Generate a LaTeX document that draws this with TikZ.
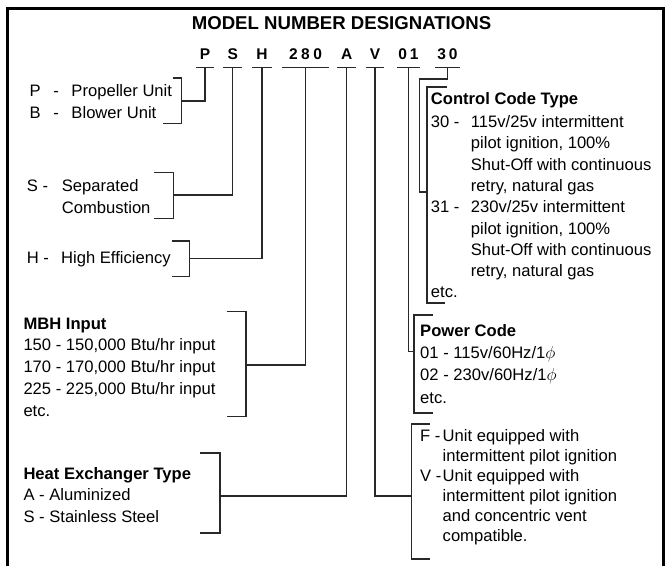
\documentclass[tikz,border=0pt]{standalone}
\usepackage{fontspec}
\setmainfont{Liberation Sans}
\usepackage{tikz}
\definecolor{MNLine}{RGB}{40,40,40}
\newcommand\mnfont[1]{\fontsize{16.6}{#1}\selectfont}
\tikzset{
  mnframe/.style ={draw=black, line width=2.7pt},
  mnrule/.style  ={draw=MNLine, line width=1.3pt},
  mncode/.style  ={font=\fontsize{15.5}{18}\selectfont\bfseries, anchor=base,
                   inner sep=0pt, text depth=8pt},
  mnblock/.style ={anchor=base west, inner sep=0pt},
}

\begin{document}
\begin{tikzpicture}[
  x=1pt,y=-1pt,
  line cap=butt,
  line join=miter
]
\useasboundingbox (0,0) rectangle (668,565);

% --- Frame ---------------------------------------------------------------
\draw[mnframe] (7.3,566) |- (663.5,8.7) -- (663.5,566);

% --- Title ---------------------------------------------------------------
\node[anchor=base, inner sep=0pt, font=\fontsize{18.6}{20}\selectfont\bfseries]
  (title) at (341.5,29.3) {MODEL NUMBER DESIGNATIONS};

% --- Model number, one node per field ------------------------------------
\node[mncode, minimum width=17pt] (cP)   at (205,59)   {P};
\node[mncode, minimum width=19pt] (cS)   at (232.7,59) {S};
\node[mncode, minimum width=19pt] (cH)   at (262,59)   {H};
\node[mncode, minimum width=46pt] (c280) at (305.5,59) {2\hspace{3.5pt}8\hspace{3.5pt}0};
\node[mncode, minimum width=19pt] (cA)   at (346.7,59) {A};
\node[mncode, minimum width=18pt] (cV)   at (375,59)   {V};
\node[mncode, minimum width=23pt] (c01)  at (408.5,59) {0\hspace{3pt}1};
\node[mncode, minimum width=25pt] (c30)  at (447.5,59) {3\hspace{3pt}0};

\foreach \c in {cP,cS,cH,c280,cA,cV,c01,c30}
  \draw[mnrule] (\c.south west) -- (\c.south east);

% --- Where the leaders meet the brackets ---------------------------------
\coordinate (jP)   at (181.7,101);
\coordinate (jS)   at (173.3,195);
\coordinate (jH)   at (189.3,258.3);
\coordinate (j280) at (246,365);
\coordinate (jA)   at (220,496);
\coordinate (jV)   at (411.7,496);
\coordinate (j01)  at (414,351.7);
\coordinate (j30)  at (427,192);

% --- Leaders -------------------------------------------------------------
\draw[mnrule] (cP.south)   |- (jP);
\draw[mnrule] (cS.south)   |- (jS);
\draw[mnrule] (cH.south)   |- (jH);
\draw[mnrule] (c280.south) |- (j280);
\draw[mnrule] (cA.south)   |- (jA);
\draw[mnrule] (cV.south)   |- (jV);
\draw[mnrule] (c01.south)  |- (j01);
\draw[mnrule] (c30.south)  |- (419.3,79) |- (j30);

% --- Brackets ------------------------------------------------------------
\draw[mnrule] (173,78)      -| (jP)   |- (163,123.7);
\draw[mnrule] (154,172.3)   -| (jS)   |- (154,218.3);
\draw[mnrule] (171.7,241)   -| (jH)   |- (171.7,276.7);
\draw[mnrule] (226.7,311.7) -| (j280) |- (226.7,416.7);
\draw[mnrule] (200,453)     -| (jA)   |- (200,533);
\draw[mnrule] (430,424)     -| (jV)   |- (430,559);
\draw[mnrule] (432.7,315)   -| (j01)  |- (432.7,413);
\draw[mnrule] (447,87)      -| (j30)  |- (445,303);

% --- Left column ---------------------------------------------------------
\node[mnblock] (tP) at (29.3,96.7) {\mnfont{21.6}%
  \begin{tabular}[t]{@{}p{24pt}@{}p{18pt}@{}l@{}}
  P & - & Propeller Unit\\
  B & - & Blower Unit
  \end{tabular}};

\node[mnblock] (tS) at (26.7,191.7) {\mnfont{21.6}%
  \begin{tabular}[t]{@{}p{35pt}@{}l@{}}
  S - & Separated\\
      & Combustion
  \end{tabular}};

\node[mnblock] (tH) at (26.7,263.3) {\mnfont{21.6}%
  \begin{tabular}[t]{@{}p{34.3pt}@{}l@{}}
  H - & High Efficiency
  \end{tabular}};

\node[mnblock] (tMBH) at (23.3,329) {\mnfont{21.8}%
  \begin{tabular}[t]{@{}l@{}}
  \textbf{MBH Input}\\
  150 - 150,000 Btu/hr input\\
  170 - 170,000 Btu/hr input\\
  225 - 225,000 Btu/hr input\\
  etc.
  \end{tabular}};

\node[mnblock] (tHX) at (23.3,479) {\mnfont{21.7}%
  \begin{tabular}[t]{@{}l@{}}
  \textbf{Heat Exchanger Type}\\
  A - Aluminized\\
  S - Stainless Steel
  \end{tabular}};

% --- Right column --------------------------------------------------------
\node[mnblock] (t30) at (430.7,104) {\mnfont{21.3}%
  \begin{tabular}[t]{@{}p{40pt}@{}l@{}}
  \multicolumn{2}{@{}l@{}}{\textbf{Control Code Type}}\\[2.2pt]
  30 - & 115v/25v intermittent\\
       & pilot ignition, 100\%\\
       & Shut-Off with continuous\\
       & retry, natural gas\\
  31 - & 230v/25v intermittent\\
       & pilot ignition, 100\%\\
       & Shut-Off with continuous\\
       & retry, natural gas\\
  \multicolumn{2}{@{}l@{}}{etc.}
  \end{tabular}};

\node[mnblock] (t01) at (420,336) {\mnfont{22.4}%
  \begin{tabular}[t]{@{}l@{}}
  \textbf{Power Code}\\
  01 - 115v/60Hz/1$\phi$\\
  02 - 230v/60Hz/1$\phi$\\
  etc.
  \end{tabular}};

\node[mnblock] (tV) at (420,441) {\mnfont{20}%
  \begin{tabular}[t]{@{}p{22.5pt}@{}l@{}}
  F - & Unit equipped with\\
      & intermittent pilot ignition\\
  V - & Unit equipped with\\
      & intermittent pilot ignition\\
      & and concentric vent\\
      & compatible.
  \end{tabular}};

\end{tikzpicture}
\end{document}
